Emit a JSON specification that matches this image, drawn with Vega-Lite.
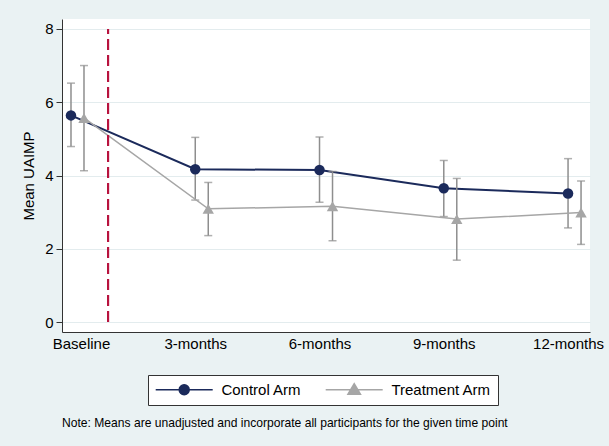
{
  "$schema": "https://vega.github.io/schema/vega-lite/v6.json",
  "width": 528,
  "height": 313,
  "autosize": {"type": "none"},
  "padding": {"left": 62, "top": 19, "right": 19, "bottom": 114},
  "background": "#eaf2f3",
  "config": {
    "font": "Liberation Sans",
    "view": {"fill": "white", "stroke": null},
    "legend": {
      "title": null,
      "orient": "none",
      "legendX": 86,
      "legendY": 356,
      "direction": "horizontal",
      "strokeColor": "#333333",
      "fillColor": "white",
      "padding": 7,
      "labelFontSize": 15,
      "labelColor": "black",
      "symbolSize": 100,
      "symbolStrokeWidth": 1.5,
      "symbolOpacity": 1,
      "symbolOffset": 21.7,
      "labelOffset": 29.7,
      "columnPadding": 20
    }
  },
  "title": {
    "text": "Note: Means are unadjusted and incorporate all participants for the given time point",
    "orient": "bottom",
    "anchor": "start",
    "frame": "group",
    "fontSize": 12.1,
    "fontWeight": "normal",
    "color": "black",
    "offset": 11
  },
  "data": {
    "values": [
      {"arm": "Control Arm", "month": 0, "mean": 5.64, "lo": 4.79, "hi": 6.52},
      {"arm": "Control Arm", "month": 3, "mean": 4.17, "lo": 3.33, "hi": 5.04},
      {"arm": "Control Arm", "month": 6, "mean": 4.15, "lo": 3.27, "hi": 5.05},
      {"arm": "Control Arm", "month": 9, "mean": 3.65, "lo": 2.88, "hi": 4.41},
      {"arm": "Control Arm", "month": 12, "mean": 3.51, "lo": 2.57, "hi": 4.46},
      {"arm": "Treatment Arm", "month": 0, "mean": 5.57, "lo": 4.13, "hi": 7.0},
      {"arm": "Treatment Arm", "month": 3, "mean": 3.09, "lo": 2.36, "hi": 3.81},
      {"arm": "Treatment Arm", "month": 6, "mean": 3.16, "lo": 2.22, "hi": 4.11},
      {"arm": "Treatment Arm", "month": 9, "mean": 2.81, "lo": 1.69, "hi": 3.92},
      {"arm": "Treatment Arm", "month": 12, "mean": 2.99, "lo": 2.12, "hi": 3.85}
    ]
  },
  "encoding": {
    "x": {
      "field": "month",
      "type": "quantitative",
      "scale": {"domain": [-0.217, 12.53], "nice": false, "zero": false},
      "axis": {
        "title": null,
        "values": [0, 3, 6, 9, 12],
        "labelExpr": "datum.value == 0 ? 'Baseline' : datum.value + '-months'",
        "grid": false,
        "ticks": false,
        "tickSize": 0,
        "labelPadding": 4,
        "labelFlush": false,
        "labelOverlap": false,
        "labelBound": false,
        "labelFontSize": 15,
        "labelColor": "black",
        "labelOffset": {"condition": {"test": "datum.value == 0", "value": 10}, "value": 0},
        "domainColor": "#333333",
        "domainWidth": 1
      }
    }
  },
  "layer": [
    {
      "transform": [{"filter": "datum.arm === 'Control Arm'"}],
      "layer": [
        {
          "mark": {"type": "rule", "color": "#8e8e8e", "strokeWidth": 1.5},
          "encoding": {
            "y": {
              "field": "lo",
              "type": "quantitative",
              "scale": {"domain": [-0.27, 8.27], "nice": false, "zero": false},
              "axis": {
                "title": "Mean UAIMP",
                "values": [0, 2, 4, 6, 8],
                "grid": true,
                "gridColor": "#e3ecee",
                "tickSize": 6,
                "tickColor": "#333333",
                "domainColor": "#333333",
                "labelFontSize": 15,
                "labelPadding": 3,
                "labelColor": "black",
                "titleFontSize": 15,
                "titleFontWeight": "normal",
                "titleColor": "black",
                "titlePadding": 8
              }
            },
            "y2": {"field": "hi"}
          }
        },
        {
          "mark": {"type": "tick", "orient": "horizontal", "color": "#8e8e8e", "thickness": 1.5, "size": 8},
          "encoding": {"y": {"field": "lo", "type": "quantitative"}}
        },
        {
          "mark": {"type": "tick", "orient": "horizontal", "color": "#8e8e8e", "thickness": 1.5, "size": 8},
          "encoding": {"y": {"field": "hi", "type": "quantitative"}}
        },
        {
          "mark": {"type": "line", "color": "#1b2a5b", "strokeWidth": 2},
          "encoding": {"y": {"field": "mean", "type": "quantitative"}}
        },
        {
          "mark": {"type": "point", "filled": true, "opacity": 1, "size": 110, "shape": "circle", "color": "#1b2a5b"},
          "encoding": {"y": {"field": "mean", "type": "quantitative"}}
        }
      ]
    },
    {
      "transform": [{"filter": "datum.arm === 'Treatment Arm'"}],
      "layer": [
        {
          "mark": {"type": "rule", "color": "#8e8e8e", "strokeWidth": 1.5, "xOffset": 13},
          "encoding": {
            "y": {"field": "lo", "type": "quantitative"},
            "y2": {"field": "hi"}
          }
        },
        {
          "mark": {"type": "tick", "orient": "horizontal", "color": "#8e8e8e", "thickness": 1.5, "size": 8, "xOffset": 13},
          "encoding": {"y": {"field": "lo", "type": "quantitative"}}
        },
        {
          "mark": {"type": "tick", "orient": "horizontal", "color": "#8e8e8e", "thickness": 1.5, "size": 8, "xOffset": 13},
          "encoding": {"y": {"field": "hi", "type": "quantitative"}}
        },
        {
          "mark": {"type": "line", "color": "#a6a6a6", "strokeWidth": 1.5, "xOffset": 13},
          "encoding": {"y": {"field": "mean", "type": "quantitative"}}
        },
        {
          "mark": {"type": "point", "filled": true, "opacity": 1, "size": 130, "shape": "triangle-up", "color": "#a6a6a6", "xOffset": 13},
          "encoding": {"y": {"field": "mean", "type": "quantitative"}}
        }
      ]
    },
    {
      "mark": {"type": "rule", "color": "#b8143f", "strokeDash": [11, 5], "strokeWidth": 1.5},
      "encoding": {
        "x": {"datum": 0.9, "type": "quantitative"},
        "y": {"datum": 0, "type": "quantitative"},
        "y2": {"datum": 8}
      }
    },
    {
      "transform": [{"filter": "false"}],
      "mark": {"type": "point", "filled": true, "opacity": 1},
      "encoding": {
        "y": {"field": "mean", "type": "quantitative"},
        "color": {
          "field": "arm",
          "type": "nominal",
          "scale": {"domain": ["Control Arm", "Treatment Arm"], "range": ["#1b2a5b", "#a6a6a6"]}
        },
        "stroke": {
          "field": "arm",
          "type": "nominal",
          "scale": {"domain": ["Control Arm", "Treatment Arm"], "range": ["#1b2a5b", "#a6a6a6"]}
        },
        "shape": {
          "field": "arm",
          "type": "nominal",
          "scale": {
            "domain": ["Control Arm", "Treatment Arm"],
            "range": ["M-5.7,0H5.7M-1,0A1,1 0 1,0 1,0A1,1 0 1,0 -1,0Z", "M-5.7,0H5.7M0,-1.2L1.25,0.9L-1.25,0.9Z"]
          }
        }
      }
    }
  ]
}
